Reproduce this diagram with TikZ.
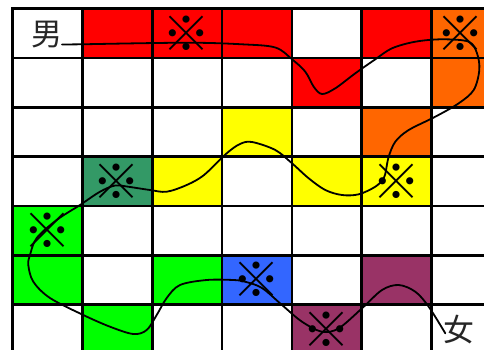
\documentclass[tikz,border=0pt]{standalone}
\usepackage{fontspec}
\newfontfamily\cjk{Noto Sans CJK SC}
\definecolor{cred}{HTML}{FF0000}
\definecolor{corange}{HTML}{FF6600}
\definecolor{cyellow}{HTML}{FFFF00}
\definecolor{cdkgreen}{HTML}{339966}
\definecolor{cgreen}{HTML}{00FF00}
\definecolor{cblue}{HTML}{3366FF}
\definecolor{cpurple}{HTML}{993366}
\newcommand\gcell[3]{\fill[#3] ({12.7+69.8*#1},{8.7+49.3*#2}) rectangle ++(69.8,49.3);}
\tikzset{
  gridline/.style={line width=2.6pt, line cap=rect, black},
  pathline/.style={line width=1.8pt, black, line cap=round, line join=round},
  refmark/.style={font=\cjk\fontsize{48}{48}\selectfont, inner sep=0pt},
  cjklabel/.style={font=\cjk\fontsize{31}{31}\selectfont, inner sep=0pt, text=black!85}
}
\begin{document}
\begin{tikzpicture}[x=1pt,y=-1pt]
\useasboundingbox (0,0) rectangle (484,349);
\fill[white] (0,0) rectangle (484,349);
\begin{scope}
\clip (0,0) rectangle (484,349);
% row 0
\gcell{1}{0}{cred}\gcell{2}{0}{cred}\gcell{3}{0}{cred}\gcell{5}{0}{cred}\gcell{6}{0}{corange}
% row 1
\gcell{4}{1}{cred}\gcell{6}{1}{corange}
% row 2
\gcell{3}{2}{cyellow}\gcell{5}{2}{corange}
% row 3
\gcell{1}{3}{cdkgreen}\gcell{2}{3}{cyellow}\gcell{4}{3}{cyellow}\gcell{5}{3}{cyellow}
% row 4
\gcell{0}{4}{cgreen}
% row 5
\gcell{0}{5}{cgreen}\gcell{2}{5}{cgreen}\gcell{3}{5}{cblue}\gcell{5}{5}{cpurple}
% row 6
\gcell{1}{6}{cgreen}\gcell{4}{6}{cpurple}
% grid
\foreach \i in {0,...,7} \draw[gridline] ({12.7+69.8*\i},8.7) -- ({12.7+69.8*\i},365);
\foreach \j in {0,...,7} \draw[gridline] (12.7,{8.7+49.3*\j}) -- (505,{8.7+49.3*\j});
\end{scope}
% labels
\node[cjklabel] (nan) at (47,35) {男};
\node[cjklabel] (nv) at (459,330) {女};
% reference marks
\node[refmark] (m1) at (186.7,33.3) {※};
\node[refmark] (m2) at (460.3,33.3) {※};
\node[refmark] (m3) at (116,181.7) {※};
\node[refmark] (m4) at (396,181.7) {※};
\node[refmark] (m5) at (47,230.7) {※};
\node[refmark] (m6) at (256,280) {※};
\node[refmark] (m7) at (326,329.3) {※};
% path
\coordinate (start) at (62,44.5);
\coordinate (finish) at (445.3,333.3);
\draw[pathline] (start) -- (82,44.3);
\draw[pathline] plot[smooth, tension=0.55] coordinates {
 (82,44.3) (186,42.7) (242,44.3) (275.3,47.5) (292,59.3) (305.3,71.7) (313.7,86.7)
 (322,94) (335.3,88.3) (355.3,73.3) (375.3,59.3) (392,48.3) (415.3,41.7) (442,39.3)
 (468.7,41.7) (477,53.3) (479.3,70) (473.7,90) (458.7,103.3) (435.3,116.7) (408.7,130)
 (395.3,141.7) (388.7,156.7) (386,170) (383.7,178.3) (375.3,186.7) (358.7,194.3)
 (342,195) (325.3,190) (308.7,178.3) (292,163.3) (275.3,150) (252,142) (240,144)
 (226.7,153.3) (204,175) (186.7,185) (166.7,191.7) (150,190) (126.7,186.5) (115,185.5)
 (100,191.7) (80,205) (56.7,220) (36.7,238) (30,255) (28.3,265) (33.3,281.7) (50,298)
 (83.3,315) (110,326.7) (133.3,334) (146.7,330) (156.7,315) (166.7,298) (180,285)
 (206.7,280) (233.3,280) (245,281.7) (262,288) (282,305) (302,321.7) (322,331.7)
 (338.7,328.3) (362,308.3) (382,290) (398.7,285) (415.3,291.7) (428.7,306.7) (finish)};
\end{tikzpicture}
\end{document}
